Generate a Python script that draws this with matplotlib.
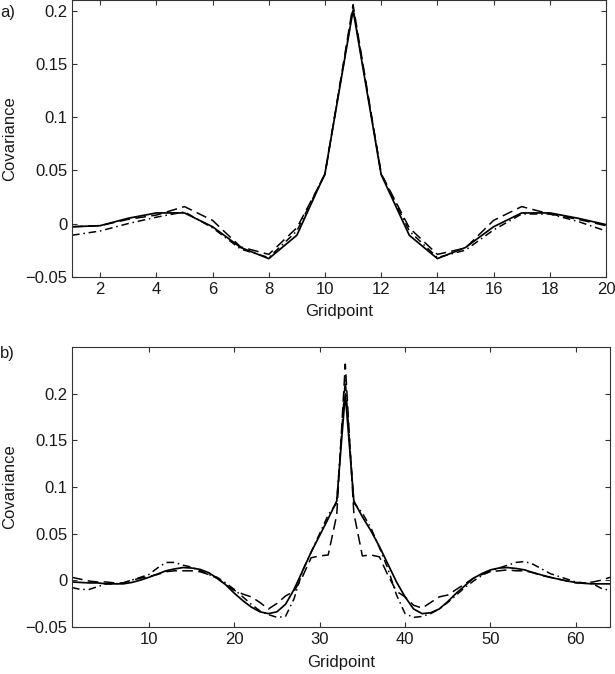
import matplotlib
matplotlib.use("Agg")
import matplotlib.pyplot as plt

plt.rcParams['font.family'] = ['Liberation Sans', 'DejaVu Sans']

# ---------------- data ----------------
# panel a) : 20 gridpoints
grid_a = list(range(1, 21))
solid_a = [-0.003, -0.002, 0.005, 0.010, 0.010, -0.003, -0.0225, -0.033, -0.011, 0.047,
           0.201, 0.046, -0.011, -0.033, -0.0225, -0.003, 0.010, 0.010, 0.005, -0.001]
dashed_a = [-0.003, -0.002, 0.004, 0.008, 0.016, 0.003, -0.022, -0.029, -0.004, 0.046,
            0.206, 0.047, -0.004, -0.029, -0.023, 0.003, 0.016, 0.009, 0.004, -0.002]
dashdot_a = [-0.011, -0.007, 0.000, 0.006, 0.011, -0.004, -0.024, -0.032, -0.007, 0.047,
             0.203, 0.047, -0.007, -0.032, -0.025, -0.006, 0.009, 0.009, 0.002, -0.007]

# panel b) : 64 gridpoints
grid_b = list(range(1, 65))
solid_b = [-0.002, -0.0025, -0.003, -0.003, -0.004, -0.004, -0.004, -0.0025, 0.000, 0.003,
           0.0065, 0.010, 0.012, 0.0135, 0.013, 0.0115, 0.008, 0.002, -0.005, -0.014,
           -0.022, -0.029, -0.034, -0.036, -0.034, -0.026, -0.010, 0.010, 0.030, 0.048,
           0.066, 0.085, 0.200, 0.085, 0.068, 0.053, 0.036, 0.017, -0.002, -0.018,
           -0.031, -0.036, -0.035, -0.031, -0.023, -0.014, -0.006, 0.002, 0.007, 0.011,
           0.013, 0.0135, 0.0125, 0.011, 0.008, 0.0055, 0.003, 0.001, -0.001, -0.0025,
           -0.0035, -0.004, -0.004, -0.004]
dashed_b = [0.003, 0.001, -0.001, -0.002, -0.002, -0.003, -0.003, 0.000, 0.002, 0.004,
            0.006, 0.009, 0.010, 0.010, 0.010, 0.009, 0.006, 0.002, -0.005, -0.011,
            -0.015, -0.018, -0.024, -0.031, -0.025, -0.017, -0.012, 0.004, 0.024, 0.026,
            0.027, 0.070, 0.232, 0.072, 0.026, 0.027, 0.025, 0.005, -0.012, -0.018,
            -0.027, -0.030, -0.024, -0.018, -0.016, -0.010, -0.004, 0.002, 0.006, 0.009,
            0.010, 0.011, 0.010, 0.010, 0.008, 0.005, 0.003, 0.001, -0.001, -0.003,
            -0.003, -0.002, 0.000, 0.003]
dashdot_b = [-0.008, -0.010, -0.010, -0.007, -0.004, -0.004, -0.003, 0.000, 0.003, 0.006,
             0.013, 0.019, 0.019, 0.016, 0.014, 0.010, 0.006, 0.003, -0.003, -0.010,
             -0.018, -0.026, -0.033, -0.037, -0.040, -0.039, -0.020, 0.010, 0.030, 0.050,
             0.070, 0.083, 0.215, 0.083, 0.072, 0.056, 0.035, 0.012, -0.016, -0.036,
             -0.040, -0.039, -0.036, -0.031, -0.024, -0.016, -0.008, -0.001, 0.005, 0.010,
             0.013, 0.016, 0.019, 0.020, 0.017, 0.012, 0.007, 0.004, 0.001, -0.002,
             -0.003, -0.004, -0.009, -0.011]

yticks = [-0.05, 0, 0.05, 0.1, 0.15, 0.2]
ytick_labels = ['\u22120.05', '0', '0.05', '0.1', '0.15', '0.2']
xticks_a = [2, 4, 6, 8, 10, 12, 14, 16, 18, 20]
xticks_b = [10, 20, 30, 40, 50, 60]

# ---------------- figure ----------------
fig = plt.figure(figsize=(6.15, 6.74), dpi=100)
ax1 = fig.add_axes([0.1171, 0.5895, 0.8683, 0.4098])
ax2 = fig.add_axes([0.1171, 0.0702, 0.8748, 0.4145])

frame_col = '#333333'
text_col = '#1a1a1a'
fs = 12

def style(ax, xticks, xlim, ylim):
    ax.set_xlim(*xlim)
    ax.set_ylim(*ylim)
    ax.set_xticks(xticks)
    ax.set_yticks(yticks)
    ax.set_yticklabels(ytick_labels)
    ax.tick_params(direction='in', length=3.6, width=0.8, top=True, right=True,
                   colors=frame_col, labelcolor=text_col, labelsize=fs)
    ax.tick_params(axis='x', pad=3.5)
    ax.tick_params(axis='y', pad=3.5)
    for s in ax.spines.values():
        s.set_color(frame_col)
        s.set_linewidth(0.8)
    ax.set_xlabel('Gridpoint', fontsize=fs, color=text_col)
    ax.set_ylabel('Covariance', fontsize=fs, color=text_col)

for ax, x, s, d, dd in [(ax1, grid_a, solid_a, dashed_a, dashdot_a),
                        (ax2, grid_b, solid_b, dashed_b, dashdot_b)]:
    ax.plot(x, dd, color='black', lw=1.1, dashes=(5, 2.5, 1, 2.5))
    ax.plot(x, d, color='black', lw=1.1, dashes=(7, 3.5))
    ax.plot(x, s, color='black', lw=1.25)

style(ax1, xticks_a, (1, 20), (-0.05, 0.21))
style(ax2, xticks_b, (1, 64), (-0.05, 0.25))

ax1.yaxis.set_label_coords(-0.102, 0.5)
ax2.yaxis.set_label_coords(-0.1015, 0.5)
ax1.xaxis.set_label_coords(0.5, -0.1)
ax2.xaxis.set_label_coords(0.5, -0.1)

fig.text(0.0, 1 - 12 / 674, 'a)', fontsize=fs, color=text_col, va='center', ha='left')
fig.text(0.0, 1 - 353 / 674, 'b)', fontsize=fs, color=text_col, va='center', ha='left')

fig.savefig('out.png', dpi=100)
